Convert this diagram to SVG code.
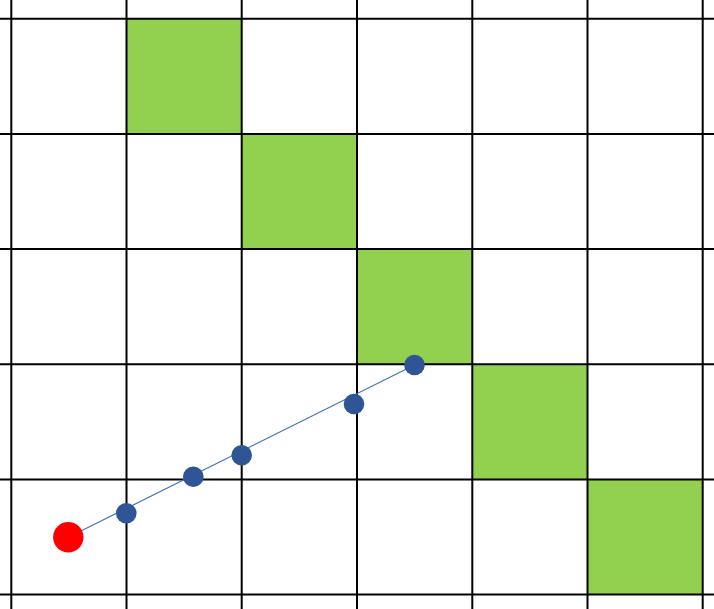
<svg xmlns="http://www.w3.org/2000/svg" width="714" height="609" viewBox="0 0 714 609">
<style>
.cell{fill:#92D050}
.grid line{stroke:#000;stroke-width:2}
.pt{fill:#2F5597}
</style>
<rect width="714" height="609" fill="#fff"/>
<g id="cells">
<rect class="cell" x="126.5" y="18.7" width="115.2" height="115.2"/>
<rect class="cell" x="241.7" y="133.9" width="115.3" height="115.1"/>
<rect class="cell" x="357" y="249" width="115.3" height="115.3"/>
<rect class="cell" x="472.3" y="364.3" width="115.2" height="115.2"/>
<rect class="cell" x="587.5" y="479.5" width="115.2" height="115.2"/>
</g>
<g id="grid" class="grid">
<line x1="11.3" y1="0" x2="11.3" y2="609"/>
<line x1="126.5" y1="0" x2="126.5" y2="609"/>
<line x1="241.7" y1="0" x2="241.7" y2="609"/>
<line x1="357" y1="0" x2="357" y2="609"/>
<line x1="472.3" y1="0" x2="472.3" y2="609"/>
<line x1="587.5" y1="0" x2="587.5" y2="609"/>
<line x1="702.7" y1="0" x2="702.7" y2="609"/>
<line x1="0" y1="18.7" x2="714" y2="18.7"/>
<line x1="0" y1="133.9" x2="714" y2="133.9"/>
<line x1="0" y1="249" x2="714" y2="249"/>
<line x1="0" y1="364.3" x2="714" y2="364.3"/>
<line x1="0" y1="479.5" x2="714" y2="479.5"/>
<line x1="0" y1="594.5" x2="714" y2="594.5"/>
</g>
<g id="connectors">
<line x1="68.3" y1="537.3" x2="414.5" y2="365" stroke="#4472C4" stroke-width="1.2"/>
</g>
<g id="start"><circle cx="68.3" cy="537.3" r="15.2" fill="#FF0000"/></g>
<g id="p1"><circle class="pt" cx="126.3" cy="513.3" r="10.3"/></g>
<g id="p2"><circle class="pt" cx="193.3" cy="476.7" r="10.3"/></g>
<g id="p3"><circle class="pt" cx="241.7" cy="455.3" r="10.3"/></g>
<g id="p4"><circle class="pt" cx="354" cy="404" r="10.3"/></g>
<g id="p5"><circle class="pt" cx="414.5" cy="365" r="10.3"/></g>
</svg>
